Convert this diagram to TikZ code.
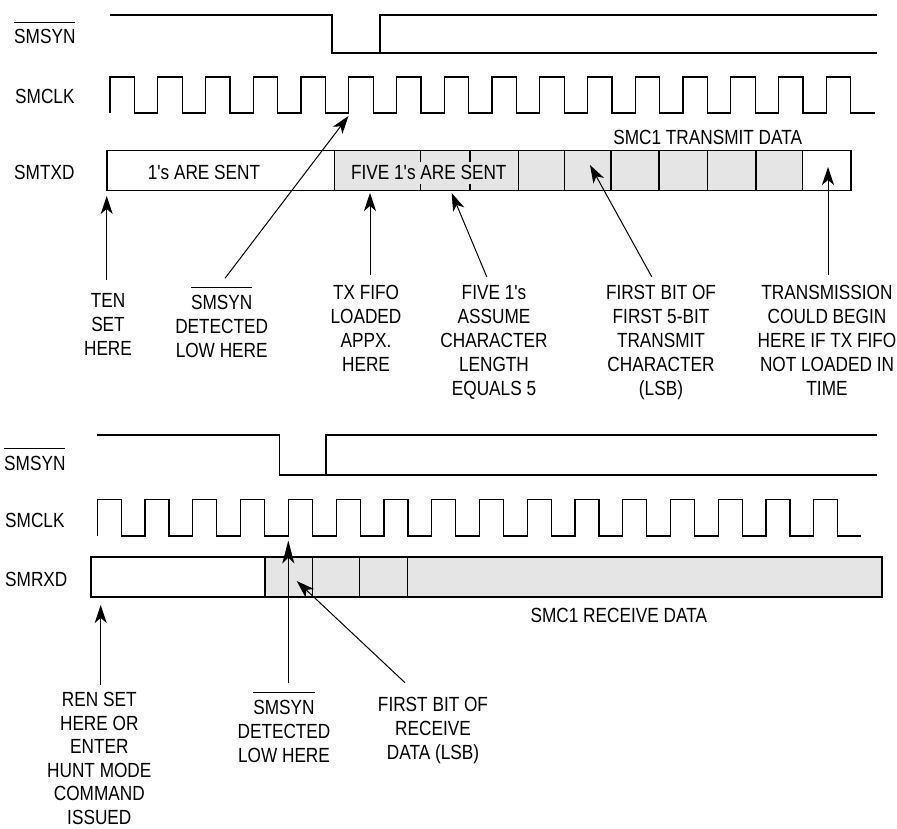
\documentclass[tikz,border=0pt]{standalone}
\usepackage{fontspec}
\setmainfont{Liberation Sans}[FakeStretch=0.84, Ligatures=TeXOff]
\usetikzlibrary{arrows.meta}
\newcommand\ovbar[1]{\leavevmode\vbox{\hrule height 1.1pt\kern 6.5pt\hbox{#1}}}
\begin{document}
\begin{tikzpicture}[x=1pt,y=-1pt,
  txt/.style={font=\fontsize{20.5}{24}\selectfont, inner sep=0pt},
  lab/.style={txt, align=center, anchor=base},
  sig/.style={txt, anchor=base west},
  wave/.style={line width=1.2pt},
  boxline/.style={line width=1.6pt},
  divl/.style={line width=1.2pt},
  grayfill/.style={fill=gray!20},
  arr/.style={line width=1pt, -{Stealth[length=18pt,width=12pt,inset=5pt]}},
  arrlong/.style={line width=1pt, -{Stealth[length=23pt,width=12pt,inset=6pt]}}]
\useasboundingbox (0,0) rectangle (897,829);

% ---------- top: transmit ----------
\node[sig] (lSyn1) at (14,44) {\ovbar{SMSYN}};
\node[sig] (lClk1) at (15,104) {SMCLK};
\node[sig] (lTxd) at (14,180) {SMTXD};

\draw[wave] (110,15) -| (332,53) -- (877,53);
\draw[wave] (380,53) |- (877,15);

\draw[wave] (110,113) \foreach \k in {0,...,15} {
  -- ({110+47.75*\k},113) -- ({110+47.75*\k},77) -- ({134.5+47.75*\k},77) -- ({134.5+47.75*\k},113)} -- (875,113);

\fill[white] (106.7,150.7) rectangle (851,190.7);
\fill[grayfill] (334.3,150.7) rectangle (802.3,190.7);
\foreach \x in {334.3,420.7,470,518.5,564.5,611,659,707.5,756,802.3}
  \draw[divl] (\x,150.7) -- (\x,190.7);
\node[lab, grayfill, inner ysep=3.5pt] (fiveSent) at (428.8,180) {FIVE 1's ARE SENT};
\draw[boxline] (106.7,150.7) rectangle (851,190.7);
\node[lab] (onesSent) at (204,180) {1's ARE SENT};
\node[lab] (txData) at (707.7,145) {SMC1 TRANSMIT DATA};

% multi-line labels: base anchor = baseline of the last line
\node[lab] (tenL) at (108,355.5) {TEN\\SET\\HERE};
\node[lab] (detL1) at (221.7,357.3) {\ovbar{SMSYN}\\DETECTED\\LOW HERE};
\node[lab] (fifoL) at (366,371) {TX FIFO\\LOADED\\APPX.\\HERE};
\node[lab] (fiveL) at (494,395.3) {FIVE 1's\\ASSUME\\CHARACTER\\LENGTH\\EQUALS 5};
\node[lab] (firstL) at (661,395.3) {FIRST BIT OF\\FIRST 5-BIT\\TRANSMIT\\CHARACTER\\(LSB)};
\node[lab] (transL) at (827,395.3) {TRANSMISSION\\COULD BEGIN\\HERE IF TX FIFO\\NOT LOADED IN\\TIME};

\coordinate (tenA) at (106.7,280);   \coordinate (tenB) at (106.7,196);
\coordinate (detA) at (225,278.3);   \coordinate (detB) at (348.5,116);
\coordinate (fifoA) at (370,275);    \coordinate (fifoB) at (370,193);
\coordinate (fiveA) at (486.7,276.7); \coordinate (fiveB) at (451.7,193);
\coordinate (firstA) at (651.7,276.7); \coordinate (firstB) at (590,165);
\coordinate (transA) at (828,275);   \coordinate (transB) at (828,167);
\draw[arr] (tenA) -- (tenB);
\draw[arr] (detA) -- (detB);
\draw[arr] (fifoA) -- (fifoB);
\draw[arr] (fiveA) -- (fiveB);
\draw[arr] (firstA) -- (firstB);
\draw[arr] (transA) -- (transB);

% ---------- bottom: receive ----------
\node[sig] (lSyn2) at (4,470) {\ovbar{SMSYN}};
\node[sig] (lClk2) at (5,527) {SMCLK};
\node[sig] (lRxd) at (5,586) {SMRXD};

\draw[wave] (97.3,435) -| (279.3,475) -- (876.7,475);
\draw[wave] (326,475) |- (876.7,435);

\draw[wave] (97.3,536) \foreach \k in {0,...,15} {
  -- ({97.3+47.77*\k},536) -- ({97.3+47.77*\k},499.3) -- ({121.3+47.77*\k},499.3) -- ({121.3+47.77*\k},536)} -- (860.7,536);

\fill[white] (90.7,556.7) rectangle (881.7,596.7);
\fill[grayfill] (265,556.7) rectangle (881.7,596.7);
\foreach \x in {265,312.7,359.3,407.3}
  \draw[divl] (\x,556.7) -- (\x,596.7);
\draw[boxline] (90.7,556.7) rectangle (881.7,596.7);
\node[lab] (rxData) at (618.8,622.7) {SMC1 RECEIVE DATA};

\node[lab, font=\fontsize{20.5}{23.5}\selectfont] (renL) at (99.3,824) {REN SET\\HERE OR\\ENTER\\HUNT MODE\\COMMAND\\ISSUED};
\node[lab] (detL2) at (284,762) {\ovbar{SMSYN}\\DETECTED\\LOW HERE};
\node[lab] (rfirstL) at (433,759.5) {FIRST BIT OF\\RECEIVE\\DATA (LSB)};

\coordinate (renA) at (100.7,685);   \coordinate (renB) at (100.7,605);
\coordinate (det2A) at (288.3,683.3); \coordinate (det2B) at (288.3,540.5);
\coordinate (rfA) at (405,682.7);    \coordinate (rfB) at (296.7,581);
\draw[arr] (renA) -- (renB);
\draw[arrlong] (det2A) -- (det2B);
\draw[arr] (rfA) -- (rfB);
\end{tikzpicture}
\end{document}
